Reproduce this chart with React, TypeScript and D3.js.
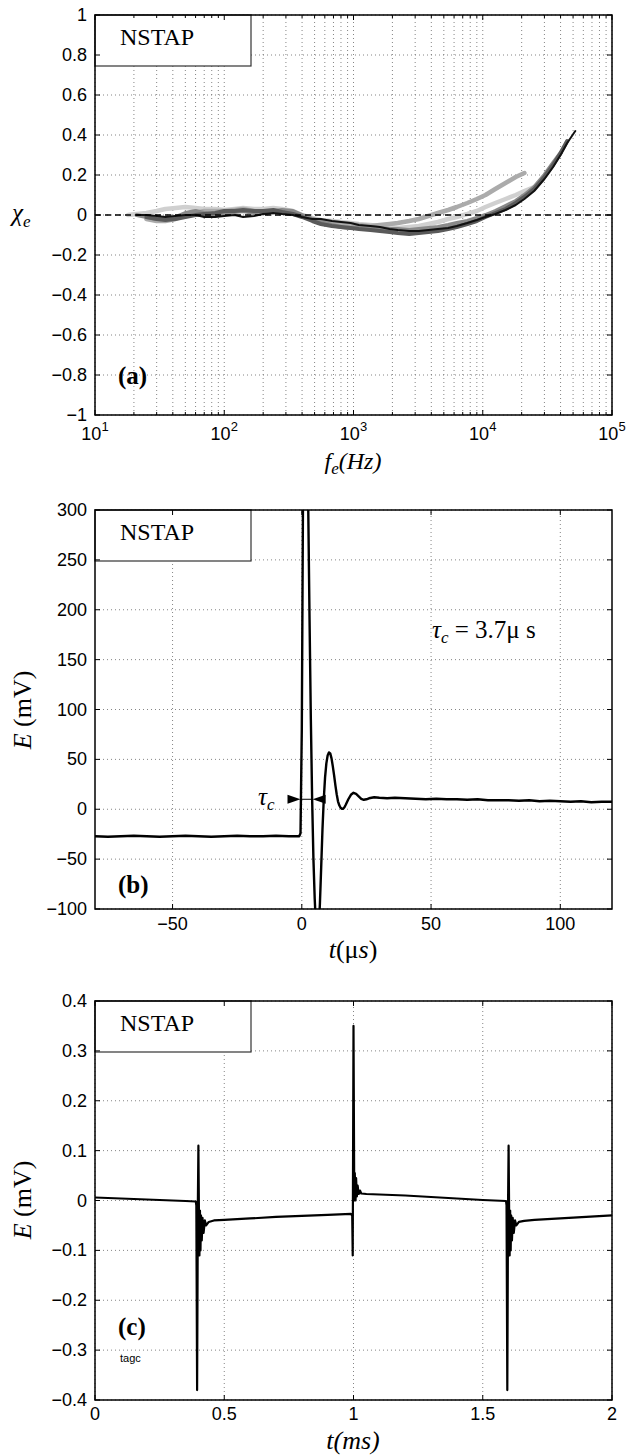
import React from "react";
import * as d3 from "d3";

const SERIF = "'Liberation Serif', 'DejaVu Serif', serif";
const SANS = "'Liberation Sans', Arial, sans-serif";
const LEFT = 95;
const RIGHT = 612;

// ---- (a) chi_e vs f_e ----
const freqA = [18, 21, 25, 30, 35, 42, 50, 60, 70, 85, 100, 120, 140, 170, 200, 240, 280, 340, 400, 480, 560, 680, 800, 950, 1100, 1350, 1600, 1900, 2200, 2700, 3200, 3800, 4500, 5400, 6300, 7600, 9000, 10500, 12500, 15000, 18000, 21000, 25000, 30000, 35000, 40000, 45000, 52000];
// each series starts at the given index of freqA
const chiLightest = [0.0, 0.005, 0.01, 0.02, 0.03, 0.035, 0.04, 0.035, 0.03, 0.03, 0.025, 0.03, 0.035, 0.03, 0.03, 0.035, 0.03, 0.02, 0.0, -0.015, -0.025, -0.03, -0.035, -0.04, -0.045, -0.05, -0.055, -0.06, -0.065, -0.06, -0.055, -0.045, -0.035, -0.02, -0.01, 0.005, 0.02, 0.04, 0.06, 0.08, 0.1, 0.12, 0.14];
const chiLight = [-0.02, -0.03, -0.03, -0.02, 0.0, 0.01, 0.02, 0.02, 0.02, 0.025, 0.03, 0.02, 0.01, 0.015, 0.02, 0.01, -0.005, -0.02, -0.03, -0.035, -0.04, -0.045, -0.05, -0.055, -0.05, -0.045, -0.04, -0.03, -0.02, -0.005, 0.01, 0.025, 0.04, 0.06, 0.08, 0.1, 0.13, 0.16, 0.19, 0.21];
const chiMid = [0.0, -0.01, -0.02, -0.02, -0.01, 0.01, 0.02, 0.01, 0.0, 0.005, 0.015, 0.02, 0.01, 0.01, 0.02, 0.025, 0.02, 0.0, -0.02, -0.035, -0.05, -0.06, -0.065, -0.06, -0.06, -0.065, -0.07, -0.07, -0.075, -0.07, -0.065, -0.06, -0.05, -0.04, -0.03, -0.015, 0.0, 0.02, 0.045, 0.07, 0.1, 0.14, 0.2, 0.26, 0.31];
const chiDark = [-0.01, -0.02, -0.025, -0.02, -0.01, 0.0, 0.005, 0.01, 0.02, 0.02, 0.025, 0.02, 0.02, 0.025, 0.015, 0.005, -0.01, -0.03, -0.045, -0.055, -0.06, -0.065, -0.07, -0.075, -0.08, -0.085, -0.09, -0.095, -0.09, -0.085, -0.08, -0.07, -0.06, -0.045, -0.03, -0.01, 0.01, 0.03, 0.06, 0.09, 0.13, 0.19, 0.25, 0.31, 0.37];
const chiBlack = [0.0, 0.0, -0.005, -0.01, -0.005, 0.0, 0.0, -0.01, -0.01, -0.005, 0.0, -0.01, -0.005, 0.005, 0.01, 0.005, 0.0, -0.01, -0.02, -0.02, -0.03, -0.035, -0.04, -0.05, -0.055, -0.06, -0.07, -0.075, -0.08, -0.08, -0.075, -0.07, -0.065, -0.055, -0.04, -0.025, -0.01, 0.005, 0.025, 0.05, 0.08, 0.12, 0.18, 0.24, 0.3, 0.36, 0.42];

const seriesA = [
  { start: 0, vals: chiLightest, color: "#d0d0d0", width: 4.5 },
  { start: 2, vals: chiLight, color: "#ababab", width: 4.5 },
  { start: 1, vals: chiMid, color: "#8a8a8a", width: 4 },
  { start: 2, vals: chiDark, color: "#5a5a5a", width: 4 },
  { start: 1, vals: chiBlack, color: "#111", width: 2 },
];
const xTicksA = [1e1, 1e2, 1e3, 1e4, 1e5];
const yTicksA = [-1, -0.8, -0.6, -0.4, -0.2, 0, 0.2, 0.4, 0.6, 0.8, 1];

// ---- (b) E vs t (µs) ----
const tB = [-80, -75, -70, -65, -60, -55, -50, -45, -40, -35, -30, -25, -20, -15, -10, -5, -1, -0.5, 0, 0.5, 1, 1.5, 2, 2.5, 3, 3.5, 4, 4.5, 5, 5.5, 6, 6.5, 7, 7.5, 8, 8.5, 9, 9.5, 10, 10.5, 11, 11.5, 12, 12.5, 13, 13.5, 14, 14.5, 15, 15.5, 16, 16.5, 17, 18, 19, 20, 21, 22, 23, 24, 25, 26, 28, 30, 33, 36, 40, 44, 48, 52, 56, 60, 64, 68, 72, 76, 80, 84, 88, 92, 96, 100, 104, 108, 112, 116, 120];
const eB = [-27, -27.5, -27, -26.5, -27, -27.5, -27, -26.5, -27, -27.5, -27, -26.5, -27, -27, -26.5, -27, -27, -24, 80, 330, 420, 440, 400, 300, 190, 90, 10, -50, -90, -118, -130, -122, -95, -58, -20, 10, 32, 46, 54, 57, 56, 51, 43, 34, 24, 15, 8, 4, 1.5, 0.5, 0.5, 2, 4.5, 10, 14.5, 16.5, 15.5, 13, 10.5, 9.5, 10, 11, 12, 11.5, 11, 11.5, 11, 10.5, 10, 10.5, 10, 10, 9.5, 10, 9, 9, 9, 8.5, 9, 8, 8.5, 8, 7.5, 8, 7, 7.5, 7.5];
const xTicksB = [-50, 0, 50, 100];
const yTicksB = [-100, -50, 0, 50, 100, 150, 200, 250, 300];

// ---- (c) E vs t (ms) ----
const tC = [0, 0.05, 0.1, 0.15, 0.2, 0.25, 0.3, 0.35, 0.39, 0.392, 0.395, 0.398, 0.4, 0.402, 0.404, 0.406, 0.408, 0.41, 0.413, 0.416, 0.42, 0.425, 0.43, 0.44, 0.46, 0.5, 0.6, 0.7, 0.8, 0.9, 0.99, 0.995, 0.997, 1.0, 1.003, 1.005, 1.008, 1.01, 1.013, 1.016, 1.02, 1.025, 1.03, 1.05, 1.1, 1.2, 1.3, 1.4, 1.5, 1.59, 1.592, 1.595, 1.598, 1.6, 1.602, 1.604, 1.606, 1.608, 1.61, 1.613, 1.616, 1.62, 1.625, 1.63, 1.64, 1.66, 1.7, 1.8, 1.9, 2.0];
const eC = [0.006, 0.005, 0.004, 0.003, 0.002, 0.001, 0.0, -0.001, -0.002, -0.01, -0.38, 0.0, 0.11, -0.02, -0.11, -0.02, -0.1, -0.03, -0.08, -0.035, -0.065, -0.04, -0.05, -0.043, -0.04, -0.039, -0.036, -0.033, -0.031, -0.029, -0.027, -0.03, -0.11, 0.35, 0.0, 0.055, 0.0, 0.045, 0.008, 0.03, 0.013, 0.02, 0.014, 0.013, 0.012, 0.01, 0.007, 0.004, 0.001, -0.001, -0.01, -0.38, 0.0, 0.11, -0.02, -0.11, -0.02, -0.1, -0.03, -0.08, -0.035, -0.065, -0.04, -0.05, -0.043, -0.041, -0.039, -0.036, -0.033, -0.03];
const xTicksC = [0, 0.5, 1, 1.5, 2];
const yTicksC = [-0.4, -0.3, -0.2, -0.1, 0, 0.1, 0.2, 0.3, 0.4];

const fmt = (v: number) => (v < 0 ? "\u2212" + String(Math.abs(v)) : String(v));

type FrameProps = {
  id: string;
  x: any;
  y: any;
  xTicks: number[];
  yTicks: number[];
  xMinor?: number[];
  xTickLabel: (v: number) => React.ReactNode;
  xTickY: number;
  tag: string;
  tagY: number;
  children?: React.ReactNode;
};

function Frame({ id, x, y, xTicks, yTicks, xMinor = [], xTickLabel, xTickY, tag, tagY, children }: FrameProps) {
  const [x0, x1] = x.range();
  const [yb, yt] = y.range();
  const grid = "#666";
  return (
    <g>
      <defs>
        <clipPath id={id}>
          <rect x={x0} y={yt} width={x1 - x0} height={yb - yt} />
        </clipPath>
      </defs>
      {[...xMinor, ...xTicks].map((v, i) => (
        <line key={"gx" + i} x1={x(v)} x2={x(v)} y1={yb} y2={yt} stroke={grid} strokeWidth={0.8} strokeDasharray="1,3" />
      ))}
      {yTicks.map((v, i) => (
        <line key={"gy" + i} x1={x0} x2={x1} y1={y(v)} y2={y(v)} stroke={grid} strokeWidth={0.8} strokeDasharray="1,3" />
      ))}
      <rect x={x0} y={yt} width={156} height={51} fill="white" stroke="#333" strokeWidth={1.2} />
      <text x={x0 + 25} y={yt + 30} fontFamily={SERIF} fontSize={24}>NSTAP</text>
      <g clipPath={`url(#${id})`}>{children}</g>
      <text x={x0 + 23} y={tagY} fontFamily={SERIF} fontSize={25} fontWeight="bold">{tag}</text>
      <rect x={x0} y={yt} width={x1 - x0} height={yb - yt} fill="none" stroke="#000" strokeWidth={1.5} />
      {xTicks.map((v, i) => (
        <g key={"tx" + i}>
          <line x1={x(v)} x2={x(v)} y1={yb} y2={yb - 5} stroke="#000" />
          <line x1={x(v)} x2={x(v)} y1={yt} y2={yt + 5} stroke="#000" />
          <text x={x(v)} y={xTickY} textAnchor="middle" fontFamily={SANS} fontSize={18}>{xTickLabel(v)}</text>
        </g>
      ))}
      {xMinor.map((v, i) => (
        <g key={"mx" + i}>
          <line x1={x(v)} x2={x(v)} y1={yb} y2={yb - 3} stroke="#000" />
          <line x1={x(v)} x2={x(v)} y1={yt} y2={yt + 3} stroke="#000" />
        </g>
      ))}
      {yTicks.map((v, i) => (
        <g key={"ty" + i}>
          <line x1={x0} x2={x0 + 5} y1={y(v)} y2={y(v)} stroke="#000" />
          <line x1={x1} x2={x1 - 5} y1={y(v)} y2={y(v)} stroke="#000" />
          <text x={x0 - 8} y={y(v) + 6} textAnchor="end" fontFamily={SANS} fontSize={18}>{fmt(v)}</text>
        </g>
      ))}
    </g>
  );
}

export default function App() {
  // (a)
  const xA = d3.scaleLog().domain([10, 1e5]).range([LEFT, RIGHT]);
  const yA = d3.scaleLinear().domain([-1, 1]).range([415, 15]);
  const minorA: number[] = [];
  [1, 2, 3, 4].forEach((d) => d3.range(2, 10).forEach((k) => minorA.push(k * Math.pow(10, d))));
  const lineA = d3.line<[number, number]>().x((d) => xA(d[0])).y((d) => yA(d[1]));

  // (b)
  const xB = d3.scaleLinear().domain([-80, 120]).range([LEFT, RIGHT]);
  const yB = d3.scaleLinear().domain([-100, 300]).range([909, 510]);
  const lineB = d3.line<number>().x((_, i) => xB(tB[i])).y((d) => yB(d));

  // (c)
  const xC = d3.scaleLinear().domain([0, 2]).range([LEFT, RIGHT]);
  const yC = d3.scaleLinear().domain([-0.4, 0.4]).range([1400, 1001]);
  const lineC = d3.line<number>().x((_, i) => xC(tC[i])).y((d) => yC(d));

  const tauY = yB(10);
  const tipL = xB(-0.5);
  const tipR = xB(4.2);

  return (
    <svg width={626} height={1456} style={{ position: "absolute", left: 0, top: 0, background: "#fff" }}>
      <rect width={626} height={1456} fill="#fff" />

      <Frame
        id="clipA" x={xA} y={yA} xTicks={xTicksA} yTicks={yTicksA} xMinor={minorA}
        xTickY={440}
        xTickLabel={(v) => (
          <>10<tspan dy={-9} fontSize={13}>{Math.round(Math.log10(v))}</tspan></>
        )}
        tag="(a)" tagY={384}
      >
        {seriesA.map((s, i) => (
          <path
            key={i}
            d={lineA(s.vals.map((v, j) => [freqA[s.start + j], v] as [number, number])) || ""}
            fill="none" stroke={s.color} strokeWidth={s.width} strokeLinejoin="round" strokeLinecap="round"
          />
        ))}
        <line x1={LEFT} x2={RIGHT} y1={yA(0)} y2={yA(0)} stroke="#000" strokeWidth={1.5} strokeDasharray="6,4" />
      </Frame>
      <text x={12} y={221} fontFamily={SERIF} fontStyle="italic" fontSize={25}>χ<tspan dy={6} fontSize={17}>e</tspan></text>
      <text x={353} y={469} textAnchor="middle" fontFamily={SERIF} fontStyle="italic" fontSize={24}>
        f<tspan dy={5} fontSize={17}>e</tspan><tspan dy={-5}>(Hz)</tspan>
      </text>

      <Frame
        id="clipB" x={xB} y={yB} xTicks={xTicksB} yTicks={yTicksB}
        xTickY={930} xTickLabel={(v) => fmt(v)}
        tag="(b)" tagY={893}
      >
        <path d={lineB(eB) || ""} fill="none" stroke="#000" strokeWidth={2.4} strokeLinejoin="round" />
      </Frame>
      <line x1={tipL} x2={tipR} y1={tauY} y2={tauY} stroke="#000" strokeWidth={1} />
      <path d={`M${tipL},${tauY} L${tipL - 13},${tauY - 4.5} L${tipL - 13},${tauY + 4.5} Z`} fill="#000" />
      <path d={`M${tipR},${tauY} L${tipR + 13},${tauY - 4.5} L${tipR + 13},${tauY + 4.5} Z`} fill="#000" />
      <text x={258} y={tauY + 6} fontFamily={SERIF} fontStyle="italic" fontSize={25}>τ<tspan dy={5} fontSize={17}>c</tspan></text>
      <text x={432} y={638} fontFamily={SERIF} fontSize={25}>
        <tspan fontStyle="italic">τ</tspan><tspan dy={5} fontSize={17} fontStyle="italic">c</tspan><tspan dy={-5}> = 3.7μ s</tspan>
      </text>
      <text transform="translate(31,710) rotate(-90)" textAnchor="middle" fontFamily={SERIF} fontSize={26}>
        <tspan fontStyle="italic">E</tspan> (mV)
      </text>
      <text x={353} y={958} textAnchor="middle" fontFamily={SERIF} fontSize={26}>
        <tspan fontStyle="italic">t</tspan>(μ<tspan fontStyle="italic">s</tspan>)
      </text>

      <Frame
        id="clipC" x={xC} y={yC} xTicks={xTicksC} yTicks={yTicksC}
        xTickY={1420} xTickLabel={(v) => String(v)}
        tag="(c)" tagY={1335}
      >
        <path d={lineC(eC) || ""} fill="none" stroke="#000" strokeWidth={2.2} strokeLinejoin="round" />
      </Frame>
      <text x={120} y={1362} fontFamily={SANS} fontSize={11}>tagc</text>
      <text transform="translate(31,1200) rotate(-90)" textAnchor="middle" fontFamily={SERIF} fontSize={26}>
        <tspan fontStyle="italic">E</tspan> (mV)
      </text>
      <text x={353} y={1449} textAnchor="middle" fontFamily={SERIF} fontStyle="italic" fontSize={26}>t(ms)</text>
    </svg>
  );
}
